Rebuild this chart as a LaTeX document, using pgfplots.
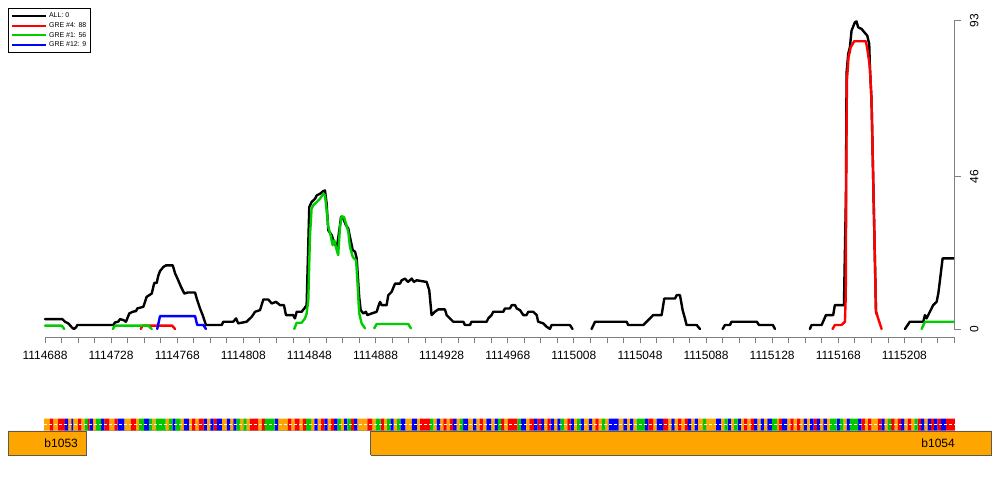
\documentclass[border=0pt]{standalone}
\usepackage{pgfplots}
\pgfplotsset{compat=1.18}
\usepackage{fontspec}
\setmainfont{Liberation Sans}
\definecolor{nA}{RGB}{0,200,0}
\definecolor{nC}{RGB}{0,0,255}
\definecolor{nG}{RGB}{255,165,0}
\definecolor{nT}{RGB}{255,0,0}
\definecolor{lgreen}{RGB}{0,205,0}
\definecolor{geneor}{RGB}{255,165,0}
\begin{document}
\begin{tikzpicture}
\path[use as bounding box] (0,0) rectangle (1000pt,500pt);
% ---------------- main coverage plot ----------------
\begin{axis}[
  at={(45pt,163pt)}, anchor=south west, scale only axis,
  width=909pt, height=316.3pt,
  xmin=0, xmax=550, ymin=-2.41, ymax=93,
  axis x line*=bottom, axis y line*=right,
  x axis line style={-, draw=gray, line width=0.8pt},
  y axis line style={draw=none},
  tick align=outside, major tick length=6.5pt, minor tick length=6.5pt,
  every tick/.style={gray, line width=0.8pt},
  xtick={0,40,80,120,160,200,240,280,320,360,400,440,480,520},
  minor xtick={0,10,...,550},
  xticklabels={1114688,1114728,1114768,1114808,1114848,1114888,1114928,1114968,1115008,1115048,1115088,1115128,1115168,1115208},
  ytick={0,46,93}, yticklabels={0,46,93},
  yticklabel style={rotate=90, anchor=north},
  yticklabel shift=6pt, xticklabel shift=4pt,
  ticklabel style={font=\fontsize{12}{14}\selectfont, text=black},
  clip=false, unbounded coords=jump,
  every axis plot/.append style={line width=2.4pt, line join=round, line cap=round},
  legend style={at={(axis description cs:-0.0404,1.0392)}, anchor=north west,
    font=\fontsize{7}{8}\selectfont, draw=black, line width=0.6pt, fill=white,
    inner xsep=2.5pt, inner ysep=2pt, row sep=-0.6pt, cells={anchor=west}},
  legend image code/.code={\draw[#1, line width=2pt, line cap=butt] (0pt,0pt) -- (34pt,0pt);},
]
\addplot[black] coordinates {
(0,3.0) (10.5,3.0) (12.1,2.2) (14.1,1.7) (16.2,0.5) (17.5,0) (18.8,0.5) (19.5,1.2) (41.3,1.2) (42.4,2.0) (44.3,2.2) (45.4,3.0) (47.4,2.7) (49.0,2.2) (51.0,4.7) (53.1,5.2) (55.1,5.4) (55.8,6.2) (59.5,6.7) (61.5,9.7) (64.6,10.7) (66.1,13.9) (67.6,13.9) (68.5,16.0) (69.6,17.5) (71.6,18.7) (73.2,19.2) (77.3,19.2) (78.7,16.8) (80.6,14.7) (82.3,12.7) (84.3,10.7) (86.3,11.0) (90.8,11.0) (91.8,9.2) (93.8,6.2) (95.4,4.2) (97.4,1.2) (106.9,1.2) (107.9,2.2) (113.9,2.2) (115.6,3.2) (116.9,1.7) (122.0,2.2) (125.1,3.7) (127.1,5.2) (130.1,5.7) (132.1,8.9) (135.1,8.9) (137.2,7.7) (139.8,8.2) (142.2,7.2) (144.6,7.2) (145.8,4.2) (150.2,4.2) (151.2,3.2) (152.3,5.2) (155.3,5.2) (156.9,6.2) (158.3,7.2) (159.9,36.8) (161.3,38.3) (163.4,39.3) (164.4,40.3) (166.4,40.8) (168.4,41.6) (169.4,41.8) (170.4,37.8) (171.4,29.8) (173.5,28.3) (174.4,26.8) (175.5,25.3) (176.7,25.0) (178.1,29.8) (179.1,33.8) (180.5,33.3) (182.1,31.3) (183.5,30.3) (184.5,27.8) (186.2,23.8) (187.6,23.3) (188.6,21.3) (190.1,9.7) (191.0,5.7) (192.6,4.7) (194.2,5.2) (195.0,4.2) (197.7,4.7) (200.7,5.2) (201.6,6.7) (202.7,8.2) (203.7,7.2) (206.7,7.2) (207.7,10.2) (209.7,11.2) (211.8,13.7) (214.8,13.7) (215.8,14.7) (217.8,15.2) (219.6,14.2) (221.9,15.2) (223.2,14.2) (224.9,14.7) (230.9,14.2) (232.5,11.7) (233.9,4.2) (235.9,5.2) (237.9,5.9) (242.0,5.9) (243.0,4.2) (245.0,3.2) (247.0,2.2) (253.1,2.2) (254.1,1.2) (257.1,1.2) (258.1,2.2) (267.2,2.2) (268.2,3.2) (270.2,4.2) (271.2,5.2) (277.3,5.2) (278.3,6.2) (281.3,6.2) (282.4,7.2) (284.4,7.2) (285.4,6.2) (287.4,5.7) (289.4,4.2) (291.4,4.2) (292.4,5.2) (295.4,5.2) (297.5,4.2) (298.4,2.2) (301.5,1.7) (303.5,0.7) (305.5,0) (306.5,1.2) (317.6,1.2) (319.2,0)
(325,nan)
(330.7,0) (332.8,2.2) (351.9,2.2) (352.9,1.2) (362.0,1.2) (364.0,2.2) (366.0,3.2) (368.0,4.2) (373.1,4.2) (374.7,9.2) (381.2,9.2) (382.2,10.2) (384.2,10.2) (385.8,5.7) (387.2,3.2) (388.2,1.2) (394.3,1.2) (396.3,0)
(400,nan)
(410.0,0) (411.4,1.2) (414.4,1.2) (415.4,2.2) (430.7,2.2) (432.0,1.2) (440.4,1.2) (441.7,0)
(450,nan)
(462.8,0) (463.8,1.2) (469.9,1.2) (472.5,4.2) (476.9,4.2) (477.9,7.2) (483.4,7.2) (484.6,40) (485.0,77.4) (486.0,83.0) (487.0,85.0) (488.0,90.0) (490.0,92.5) (491.0,92.8) (492.0,91.0) (494.1,90.5) (496.1,89.3) (497.5,88.5) (498.7,86.0) (499.1,79.0) (500.1,69.0) (502.8,5.2) (503.5,4.2)
(510,nan)
(520.3,0) (523.3,2.2) (531.4,2.2) (532.4,4.2) (533.4,3.2) (535.4,5.2) (537.4,7.2) (539.5,8.2) (540.5,10.7) (541.5,14.7) (543.1,21.3) (550,21.3)
};
\addlegendentry{ALL: 0}
\addplot[red] coordinates {
(57.9,0) (59.1,1.0) (77.0,1.0) (78.7,0)
(200,nan)
(476.5,0) (477.9,1.2) (481.9,1.2) (484.0,2.2) (484.5,10) (484.8,45) (485.2,75) (486.2,82) (487.5,85) (489.6,86.8) (496.7,86.8) (497.7,84.0) (499.1,79.0) (500.1,69.0) (502.8,5.2) (504.1,3.2) (506.2,0)
};
\addlegendentry{GRE \#4: 88}
\addplot[lgreen] coordinates {
(0,1.0) (10.1,1.0) (11.7,0)
(20,nan)
(41.0,0) (42.4,1.0) (62.5,1.0) (64.6,0)
(100,nan)
(150.8,0) (152.3,1.9) (155.3,1.9) (157.3,3.2) (158.3,4.7) (159.3,8.7) (160.3,27.8) (161.3,36.3) (162.3,37.3) (164.4,38.3) (166.4,39.3) (168.4,40.8) (169.4,40.3) (170.4,35.8) (171.4,30.8) (172.8,28.3) (174.0,25.3) (175.0,26.8) (176.5,23.8) (177.4,22.3) (178.5,30.8) (179.5,34.0) (180.9,33.8) (182.1,31.8) (183.5,29.3) (184.5,24.8) (186.2,21.8) (186.9,21.3) (188.2,20.8) (189.0,14.7) (190.1,4.7) (191.6,1.7) (193.6,0.2)
(196,nan)
(199.2,0.2) (200.7,1.5) (219.8,1.5) (221.4,0.2)
(300,nan)
(530.4,0) (532.4,2.2) (550,2.2)
};
\addlegendentry{GRE \#1: 56}
\addplot[blue] coordinates {
(67.9,0) (69.6,3.9) (90.8,3.9) (92.1,1.2) (95.8,1.2) (97.4,0)
};
\addlegendentry{GRE \#12: 9}
\draw[gray, line width=0.8pt] (axis cs:550,0) -- (axis cs:550,93);
\end{axis}
% ---------------- sequence strip ----------------
\begin{axis}[
  at={(45pt,69.3pt)}, anchor=south west, scale only axis,
  width=909pt, height=12pt,
  xmin=0, xmax=550, ymin=0, ymax=1, hide axis, clip=false,
]
\addplot[ybar interval, fill=nG, draw=none] coordinates {
(-0.5,1)(3,0)(5,1)(8,0)(14,1)(16,0)(17,1)(20,0)(22,1)(24,0)(29,1)(31,0)(39,1)(42,0)(48,1)(52,0)(55,1)(57,0)(65,1)(67,0)(73,1)(75,0)(82,1)(84,0)(87,1)(89,0)(91,1)(93,0)(98,1)(100,0)(107,1)(110,0)(112,1)(114,0)(118,1)(120,0)(122,1)(124,0)(129,1)(131,0)(141,1)(147,0)(149,1)(151,0)(154,1)(156,0)(161,1)(163,0)(165,1)(167,0)(171,1)(173,0)(179,1)(181,0)(189,1)(195,0)(198,1)(200,0)(205,1)(207,0)(211,1)(213,0)(218,1)(222,0)(225,1)(227,0)(235,1)(237,0)(239,1)(241,0)(243,1)(245,0)(249,1)(251,0)(256,1)(259,0)(261,1)(263,0)(265,1)(267,0)(270,1)(272,0)(278,1)(280,0)(291,1)(293,0)(302,1)(304,0)(308,1)(310,0)(314,1)(316,0)(320,1)(322,0)(326,1)(329,0)(331,1)(333,0)(335,1)(337,0)(339,1)(341,0)(347,1)(350,0)(352,1)(354,0)(356,1)(358,0)(368,1)(370,0)(377,1)(379,0)(381,1)(383,0)(385,1)(387,0)(391,1)(393,0)(395,1)(398,0)(400,1)(406,0)(409,1)(411,0)(415,1)(417,0)(421,1)(423,0)(425,1)(427,0)(431,1)(433,0)(435,1)(437,0)(443,1)(444,0)(449,1)(451,0)(453,1)(455,0)(457,1)(459,0)(461,1)(463,0)(469,1)(471,0)(473,1)(475,0)(483,1)(485,0)(496,1)(498,0)(500,1)(504,0)(508,1)(510,0)(514,1)(516,0)(520,1)(522,0)(524,1)(526,0)(532,1)(534,0)
};
\addplot[ybar interval, fill=nT, draw=none] coordinates {
(3,1)(5,0)(8,1)(12,0)(20,1)(22,0)(26,1)(27,0)(36,1)(39,0)(42,1)(44,0)(52,1)(55,0)(89,1)(91,0)(93,1)(96,0)(102,1)(104,0)(124,1)(129,0)(131,1)(133,0)(147,1)(149,0)(151,1)(154,0)(156,1)(158,0)(167,1)(169,0)(173,1)(175,0)(185,1)(187,0)(195,1)(198,0)(203,1)(205,0)(227,1)(233,0)(241,1)(243,0)(245,1)(247,0)(263,1)(265,0)(276,1)(278,0)(280,1)(286,0)(293,1)(296,0)(298,1)(300,0)(304,1)(306,0)(316,1)(318,0)(333,1)(335,0)(365,1)(368,0)(374,1)(377,0)(383,1)(385,0)(387,1)(389,0)(423,1)(425,0)(427,1)(429,0)(444,1)(446,0)(451,1)(453,0)(455,1)(457,0)(465,1)(467,0)(494,1)(496,0)(498,1)(500,0)(504,1)(506,0)(512,1)(514,0)(516,1)(518,0)(522,1)(524,0)(528,1)(530,0)(536,1)(538,0)(540,1)(542,0)(545,1)(550.5,0)
};
\addplot[ybar interval, fill=nC, draw=none] coordinates {
(12,1)(14,0)(16,1)(17,0)(27,1)(29,0)(34,1)(36,0)(44,1)(48,0)(60,1)(63,0)(77,1)(79,0)(84,1)(87,0)(96,1)(98,0)(100,1)(102,0)(104,1)(107,0)(110,1)(112,0)(114,1)(116,0)(139,1)(141,0)(163,1)(165,0)(169,1)(171,0)(175,1)(177,0)(181,1)(183,0)(187,1)(189,0)(209,1)(211,0)(215,1)(218,0)(222,1)(225,0)(237,1)(239,0)(247,1)(249,0)(253,1)(256,0)(259,1)(261,0)(267,1)(270,0)(272,1)(274,0)(288,1)(291,0)(296,1)(298,0)(300,1)(302,0)(306,1)(308,0)(310,1)(312,0)(318,1)(320,0)(324,1)(326,0)(329,1)(331,0)(341,1)(347,0)(350,1)(352,0)(354,1)(356,0)(363,1)(365,0)(370,1)(374,0)(379,1)(381,0)(389,1)(391,0)(393,1)(395,0)(406,1)(409,0)(413,1)(415,0)(419,1)(421,0)(429,1)(431,0)(433,1)(435,0)(437,1)(440,0)(446,1)(449,0)(459,1)(461,0)(463,1)(465,0)(467,1)(469,0)(471,1)(473,0)(479,1)(481,0)(485,1)(487,0)(492,1)(494,0)(506,1)(508,0)(518,1)(520,0)(530,1)(532,0)(534,1)(536,0)(538,1)(540,0)(542,1)(545,0)
};
\addplot[ybar interval, fill=nA, draw=none] coordinates {
(24,1)(26,0)(31,1)(34,0)(57,1)(60,0)(63,1)(65,0)(67,1)(73,0)(75,1)(77,0)(79,1)(82,0)(116,1)(118,0)(120,1)(122,0)(133,1)(139,0)(158,1)(161,0)(177,1)(179,0)(183,1)(185,0)(200,1)(203,0)(207,1)(209,0)(213,1)(215,0)(233,1)(235,0)(251,1)(253,0)(274,1)(276,0)(286,1)(288,0)(312,1)(314,0)(322,1)(324,0)(337,1)(339,0)(358,1)(363,0)(398,1)(400,0)(411,1)(413,0)(417,1)(419,0)(440,1)(443,0)(475,1)(479,0)(481,1)(483,0)(487,1)(492,0)(510,1)(512,0)(526,1)(528,0)
};
\addplot[white, line width=1pt, dash pattern=on 2.5pt off 2.5pt] coordinates {(-0.5,0.5) (550.5,0.5)};
\end{axis}
% ---------------- gene track ----------------
\begin{axis}[
  at={(45pt,45pt)}, anchor=south west, scale only axis,
  width=909pt, height=24pt,
  xmin=0, xmax=550, ymin=0, ymax=1, hide axis, clip=false,
]
\addplot[fill=geneor, draw=black!65, line width=0.8pt] coordinates {(-22.2,0) (25.2,0) (25.2,1) (-22.2,1) (-22.2,0)};
\addplot[fill=geneor, draw=black!65, line width=0.8pt] coordinates {(197.0,0) (572.9,0) (572.9,1) (197.0,1) (197.0,0)};
\node[anchor=east, font=\fontsize{12}{14}\selectfont, inner sep=0pt] at (axis cs:20.0,0.5) {b1053};
\node[anchor=east, font=\fontsize{12}{14}\selectfont, inner sep=0pt] at (axis cs:550.6,0.5) {b1054};
\end{axis}
\end{tikzpicture}
\end{document}
